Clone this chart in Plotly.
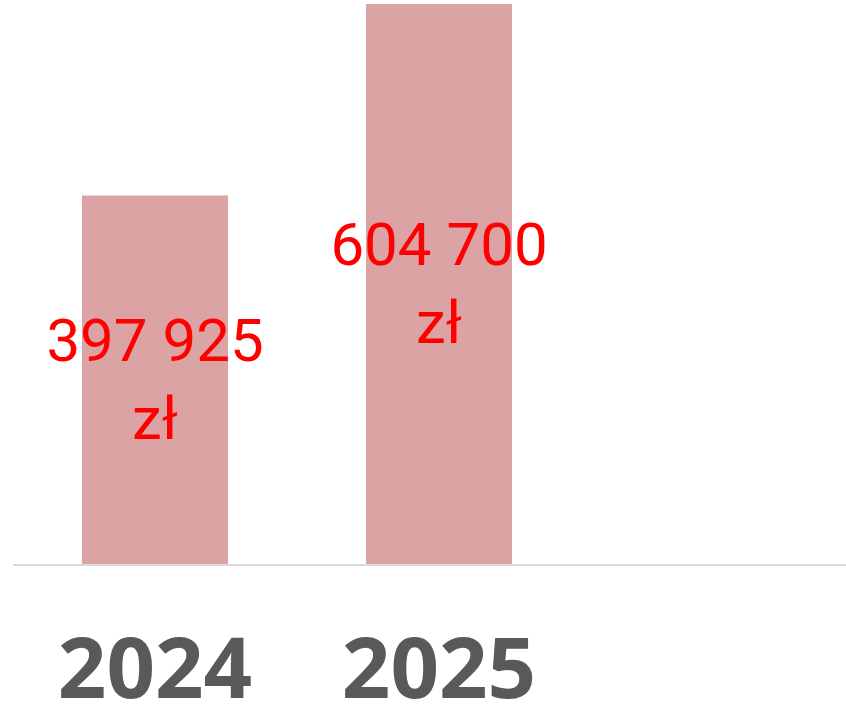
import plotly.graph_objects as go

years = ["2024", "2025"]
values = [397925, 604700]
labels = ["397 925<br>zł", "604 700<br>zł"]

fig = go.Figure(
    go.Bar(
        x=years,
        y=values,
        text=labels,
        textposition="inside",
        insidetextanchor="middle",
        textangle=0,
        textfont=dict(family="Roboto", size=60, color="#FF0000"),
        marker=dict(color="#DBA3A3", line=dict(width=0)),
        width=0.514,
        hoverinfo="skip",
    )
)

fig.update_layout(
    width=846,
    height=706,
    margin=dict(l=13, r=0, t=0, b=142),
    paper_bgcolor="white",
    plot_bgcolor="white",
    showlegend=False,
    uniformtext=dict(minsize=60, mode="show"),
    xaxis=dict(
        type="category",
        range=[-0.5, 2.433],
        automargin=False,
        showline=True,
        linecolor="#D9D9D9",
        linewidth=1.5,
        showgrid=False,
        ticks="",
        tickfont=dict(family="Open Sans", size=85, color="#595959", weight=700),
        ticklabelstandoff=30,
    ),
    yaxis=dict(
        range=[0, 609000],
        visible=False,
        automargin=False,
        showgrid=False,
        zeroline=False,
    ),
)

fig.write_html(
    "out.html",
    config={"displayModeBar": False},
    post_script="document.body.style.margin='0';",
)
